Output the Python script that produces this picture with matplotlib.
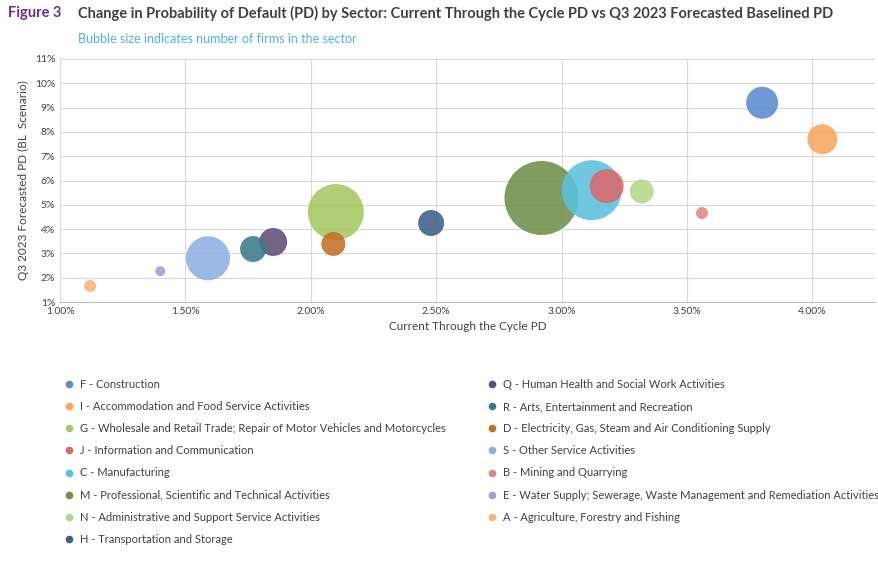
import matplotlib
matplotlib.use("Agg")
import matplotlib.pyplot as plt
from matplotlib.ticker import FuncFormatter, MultipleLocator

plt.rcParams['font.family'] = ['Lato', 'DejaVu Sans']

labels = ["F - Construction", "I - Accommodation and Food Service Activities",
          "G - Wholesale and Retail Trade; Repair of Motor Vehicles and Motorcycles",
          "J - Information and Communication", "C - Manufacturing",
          "M - Professional, Scientific and Technical Activities",
          "N - Administrative and Support Service Activities",
          "H - Transportation and Storage",
          "Q - Human Health and Social Work Activities",
          "R - Arts, Entertainment and Recreation",
          "D - Electricity, Gas, Steam and Air Conditioning Supply",
          "S - Other Service Activities", "B - Mining and Quarrying",
          "E - Water Supply; Sewerage, Waste Management and Remediation Activities",
          "A - Agriculture, Forestry and Fishing"]
ttc = [3.80, 4.04, 2.10, 3.18, 3.12, 2.92, 3.32, 2.48, 1.85, 1.77, 2.09, 1.59, 3.56, 1.40, 1.12]
fcst = [9.2, 7.7, 4.7, 5.77, 5.6, 5.28, 5.55, 4.25, 3.47, 3.18, 3.39, 2.8, 4.66, 2.27, 1.66]
radius_px = [16, 15, 28, 17, 30, 37, 12, 13, 14, 13, 12, 22, 6, 5, 6]
colors = ["#5B8BD0", "#F8A65F", "#A5C860", "#D9696B", "#5BC0DE", "#6F8F4A", "#B5D68A",
          "#3F5F87", "#5E4E75", "#3A7A8A", "#C27028", "#8EB0E0", "#E48585", "#A79BD1", "#F9B47A"]
zorders = [3, 3, 3, 5, 4, 3, 3, 3, 3, 3, 3, 3, 3, 3, 3]

fig = plt.figure(figsize=(8.79, 5.65), dpi=100)
ax = fig.add_axes([60/879, 1-302/565, 815/879, 243/565])
for x, y, r, c, l, z in zip(ttc, fcst, radius_px, colors, labels, zorders):
    ax.scatter(x, y, s=(2*r*0.72)**2, color=c, alpha=0.88, edgecolors='none', label=l, zorder=z)
ax.set_xlim(1.0, 4.25)
ax.set_ylim(1, 11)
ax.xaxis.set_major_locator(MultipleLocator(0.5))
ax.yaxis.set_major_locator(MultipleLocator(1))
ax.xaxis.set_major_formatter(FuncFormatter(lambda v, p: f"{v:.2f}%"))
ax.yaxis.set_major_formatter(FuncFormatter(lambda v, p: f"{v:.0f}%"))
ax.grid(True, color="#D9D9D9", lw=0.8)
ax.set_axisbelow(True)
for s in ax.spines.values():
    s.set_visible(False)
ax.spines['bottom'].set_visible(True); ax.spines['bottom'].set_color("#BFBFBF")
ax.tick_params(length=0, labelsize=7.5, colors="#404040")
ax.set_xlabel("Current Through the Cycle PD", fontsize=8.5, color="#404040")
ax.set_ylabel("Q3 2023 Forecasted PD (BL  Scenario)", fontsize=8.5, color="#404040")

fig.text(8/879, 1-13/565, "Figure 3", fontsize=10.5, color="#6B2C91", fontweight='bold', va='center')
fig.text(78/879, 1-13/565, "Change in Probability of Default (PD) by Sector: Current Through the Cycle PD vs Q3 2023 Forecasted Baselined PD",
         fontsize=10.5, color="#404040", fontweight='bold', va='center')
fig.text(78/879, 1-39/565, "Bubble size indicates number of firms in the sector", fontsize=9, color="#4FB3E0", va='center')

handles = [plt.Line2D([], [], marker='o', ls='', color=c, markersize=4.5) for c in colors]
fig.legend(handles, labels, ncol=2, loc='upper left', bbox_to_anchor=(52/879, 1-369/565),
           frameon=False, fontsize=8, labelspacing=1.0, columnspacing=3.6, handletextpad=0.4,
           handlelength=1.2, labelcolor="#404040")
fig.savefig("out.png", dpi=100)
